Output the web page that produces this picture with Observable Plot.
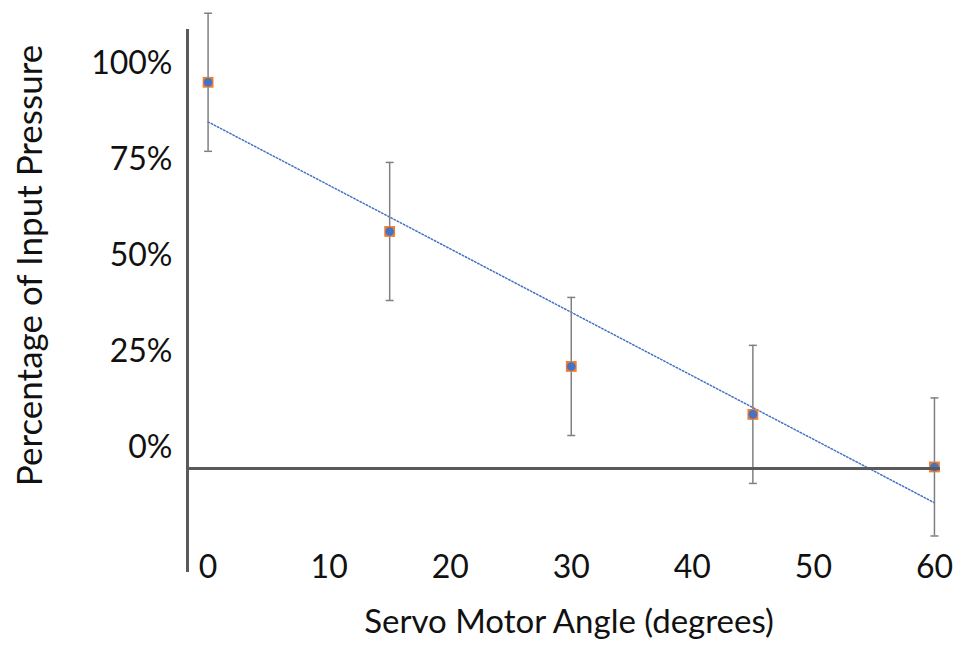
<!DOCTYPE html>
<html>
<head>
<meta charset="utf-8">
<script src="https://cdn.jsdelivr.net/npm/d3@7"></script>
<script src="https://cdn.jsdelivr.net/npm/@observablehq/plot@0.6"></script>
<style>
  html, body { margin: 0; padding: 0; background: #fff; }
  #chart { width: 955px; height: 648px; }
</style>
</head>
<body>
<div id="chart"></div>
<script>
// ---- Data ----
const angles = [0, 15, 30, 45, 60];
const pressures = [95.2, 56.3, 21.1, 8.6, -5.1];
const errors = [18, 18, 18, 18, 18];
const xTicks = [0, 10, 20, 30, 40, 50, 60];
const yTicks = [0, 25, 50, 75, 100];
const axisCrossing = -5.5;
const xLabel = "Servo Motor Angle (degrees)";
const yLabel = "Percentage of Input Pressure";

const data = angles.map((a, i) => ({x: a, y: pressures[i], e: errors[i]}));

// custom symbol for error-bar caps
const cap = {
  draw(context, size) {
    const w = 4;
    context.moveTo(-w, 0);
    context.lineTo(w, 0);
  }
};

const axisColor = "#5a5a5a";
const errColor = "#808080";

const chart = Plot.plot({
  width: 955,
  height: 648,
  marginLeft: 187,
  marginRight: 15,
  marginTop: 30,
  marginBottom: 78,
  x: {domain: [-1.7, 60.5]},
  y: {domain: [-32.1, 108.7]},
  style: {fontFamily: "Lato, sans-serif", fontSize: "32px", color: "#111", background: "white"},
  marks: [
    Plot.frame({anchor: "left", stroke: axisColor, strokeWidth: 3}),
    Plot.axisY({ticks: yTicks, tickFormat: d => d + "%", tickSize: 0, tickPadding: 15, label: null, fontSize: 32}),
    Plot.axisX({ticks: xTicks, tickSize: 0, tickPadding: 0, dy: -15, label: null, fontSize: 32}),
    Plot.linearRegressionY(data, {x: "x", y: "y", ci: 0, stroke: "#4472C4", strokeWidth: 1.5, strokeDasharray: "1.5 2"}),
    Plot.ruleX(data, {x: "x", y1: d => d.y - d.e, y2: d => d.y + d.e, stroke: errColor, strokeWidth: 1.5}),
    Plot.dot(data, {x: "x", y: d => d.y + d.e, symbol: cap, r: 4, stroke: errColor, strokeWidth: 1.5, fill: "none"}),
    Plot.dot(data, {x: "x", y: d => d.y - d.e, symbol: cap, r: 4, stroke: errColor, strokeWidth: 1.5, fill: "none"}),
    Plot.dot(data, {x: "x", y: "y", symbol: "square", r: 6.1, fill: "#ED7D31", stroke: "none"}),
    Plot.dot(data, {x: "x", y: "y", r: 4.3, fill: "#4472C4", stroke: "none"}),
    Plot.ruleY([axisCrossing], {stroke: axisColor, strokeWidth: 3}),
    Plot.text([yLabel], {frameAnchor: "left", textAnchor: "middle", rotate: -90, dx: -157, dy: -35, fontSize: 35, fill: "#111"}),
    Plot.text([xLabel], {frameAnchor: "bottom", textAnchor: "middle", dy: 62, dx: 5, fontSize: 33, fill: "#111"})
  ]
});

document.getElementById("chart").appendChild(chart);
</script>
</body>
</html>
